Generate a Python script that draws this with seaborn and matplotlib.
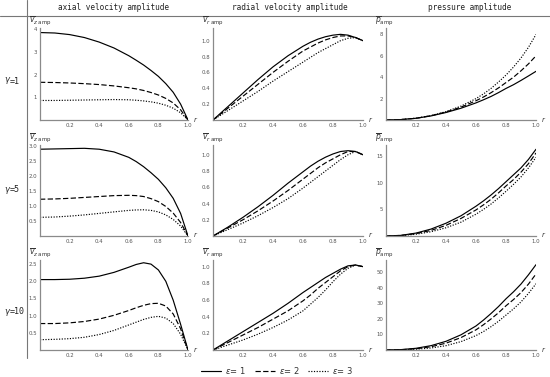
import numpy as np
import pandas as pd
import matplotlib
matplotlib.use("Agg")
import matplotlib.pyplot as plt
import seaborn as sns
from matplotlib.lines import Line2D

sns.set_theme(style="white")
plt.rcParams['font.family'] = ['DejaVu Sans']
plt.rcParams['mathtext.fontset'] = 'dejavusans'

# ---------------- data ----------------
r = [0, 0.1, 0.2, 0.3, 0.4, 0.5, 0.6, 0.65, 0.7, 0.75, 0.8, 0.85, 0.9, 0.95, 1.0]

gammas = ["1", "5", "10"]
eps_labels = ["1", "2", "3"]
col_titles = ["axial velocity amplitude", "radial velocity amplitude", "pressure amplitude"]

# axial velocity amplitude (gamma = 1, 5, 10; eps = 1, 2, 3)
axial_g1_e1 = [3.85, 3.83, 3.76, 3.63, 3.43, 3.17, 2.83, 2.63, 2.42, 2.18, 1.92, 1.60, 1.22, 0.70, 0]
axial_g1_e2 = [1.66, 1.65, 1.63, 1.60, 1.56, 1.50, 1.42, 1.37, 1.30, 1.21, 1.10, 0.95, 0.75, 0.45, 0]
axial_g1_e3 = [0.86, 0.86, 0.87, 0.88, 0.89, 0.90, 0.89, 0.87, 0.84, 0.80, 0.74, 0.65, 0.52, 0.32, 0]

axial_g5_e1 = [2.88, 2.89, 2.90, 2.91, 2.88, 2.79, 2.61, 2.47, 2.30, 2.10, 1.88, 1.60, 1.25, 0.75, 0]
axial_g5_e2 = [1.22, 1.23, 1.25, 1.28, 1.31, 1.34, 1.35, 1.34, 1.31, 1.24, 1.14, 0.98, 0.76, 0.45, 0]
axial_g5_e3 = [0.62, 0.63, 0.66, 0.70, 0.75, 0.80, 0.85, 0.865, 0.87, 0.85, 0.80, 0.70, 0.55, 0.33, 0]

axial_g10_e1 = [2.05, 2.05, 2.06, 2.09, 2.15, 2.26, 2.41, 2.49, 2.54, 2.50, 2.33, 2.00, 1.45, 0.75, 0]
axial_g10_e2 = [0.77, 0.77, 0.79, 0.83, 0.90, 1.01, 1.15, 1.23, 1.30, 1.35, 1.36, 1.28, 1.05, 0.62, 0]
axial_g10_e3 = [0.30, 0.31, 0.33, 0.37, 0.45, 0.57, 0.73, 0.81, 0.89, 0.95, 0.98, 0.93, 0.77, 0.46, 0]

# radial velocity amplitude
radial_g1_e1 = [0, 0.17, 0.34, 0.51, 0.67, 0.81, 0.93, 0.98, 1.02, 1.05, 1.07, 1.08, 1.07, 1.04, 1.0]
radial_g1_e2 = [0, 0.15, 0.30, 0.45, 0.60, 0.74, 0.87, 0.92, 0.97, 1.01, 1.04, 1.06, 1.06, 1.04, 1.0]
radial_g1_e3 = [0, 0.12, 0.24, 0.36, 0.49, 0.61, 0.73, 0.79, 0.85, 0.90, 0.95, 1.00, 1.03, 1.04, 1.0]

radial_g5_e1 = [0, 0.11, 0.23, 0.36, 0.50, 0.65, 0.79, 0.86, 0.92, 0.97, 1.01, 1.04, 1.05, 1.04, 1.0]
radial_g5_e2 = [0, 0.10, 0.20, 0.31, 0.43, 0.56, 0.70, 0.77, 0.84, 0.90, 0.95, 1.00, 1.04, 1.04, 1.0]
radial_g5_e3 = [0, 0.08, 0.16, 0.25, 0.35, 0.46, 0.59, 0.66, 0.73, 0.80, 0.87, 0.94, 1.00, 1.04, 1.0]

radial_g10_e1 = [0, 0.11, 0.22, 0.33, 0.44, 0.56, 0.69, 0.75, 0.81, 0.87, 0.92, 0.97, 1.01, 1.02, 1.0]
radial_g10_e2 = [0, 0.09, 0.18, 0.27, 0.37, 0.47, 0.59, 0.66, 0.74, 0.81, 0.88, 0.95, 1.00, 1.02, 1.0]
radial_g10_e3 = [0, 0.06, 0.12, 0.19, 0.27, 0.36, 0.47, 0.55, 0.63, 0.72, 0.82, 0.91, 0.98, 1.02, 1.0]

# pressure amplitude
press_g1_e1 = [0, 0.04, 0.16, 0.38, 0.70, 1.10, 1.60, 1.89, 2.20, 2.56, 2.95, 3.30, 3.70, 4.12, 4.55]
press_g1_e2 = [0, 0.04, 0.16, 0.40, 0.75, 1.20, 1.80, 2.15, 2.55, 3.00, 3.50, 4.00, 4.60, 5.25, 6.00]
press_g1_e3 = [0, 0.04, 0.17, 0.41, 0.78, 1.30, 2.00, 2.44, 2.95, 3.55, 4.20, 4.95, 5.80, 6.80, 8.00]

press_g5_e1 = [0, 0.12, 0.55, 1.30, 2.40, 3.80, 5.60, 6.60, 7.70, 8.90, 10.2, 11.5, 12.8, 14.4, 16.3]
press_g5_e2 = [0, 0.10, 0.45, 1.05, 2.00, 3.30, 4.90, 5.85, 6.90, 8.10, 9.40, 10.6, 12.0, 13.6, 15.6]
press_g5_e3 = [0, 0.07, 0.33, 0.80, 1.55, 2.60, 4.10, 5.00, 6.00, 7.15, 8.40, 9.70, 11.1, 12.8, 14.8]

press_g10_e1 = [0, 0.25, 1.10, 2.80, 5.60, 9.80, 15.5, 19.3, 23.5, 28.0, 33.0, 37.5, 42.5, 48.5, 55.0]
press_g10_e2 = [0, 0.18, 0.80, 2.10, 4.40, 8.00, 13.0, 16.3, 20.0, 24.0, 28.5, 32.5, 37.0, 42.5, 49.0]
press_g10_e3 = [0, 0.10, 0.50, 1.30, 2.80, 5.40, 9.30, 11.9, 15.0, 18.5, 22.5, 26.5, 31.0, 36.5, 42.7]

x_ticks = [0.2, 0.4, 0.6, 0.8, 1.0]
x_ticklabels = ["0.2", "0.4", "0.6", "0.8", "1.0"]

y_ticks = {
    (0, 0): [1, 2, 3, 4], (0, 1): [0.2, 0.4, 0.6, 0.8, 1.0], (0, 2): [2, 4, 6, 8],
    (1, 0): [0.5, 1.0, 1.5, 2.0, 2.5, 3.0], (1, 1): [0.2, 0.4, 0.6, 0.8, 1.0], (1, 2): [5, 10, 15],
    (2, 0): [0.5, 1.0, 1.5, 2.0, 2.5], (2, 1): [0.2, 0.4, 0.6, 0.8, 1.0], (2, 2): [10, 20, 30, 40, 50],
}
y_ticklabels = {
    (0, 0): ["1", "2", "3", "4"], (0, 1): ["0.2", "0.4", "0.6", "0.8", "1.0"], (0, 2): ["2", "4", "6", "8"],
    (1, 0): ["0.5", "1.0", "1.5", "2.0", "2.5", "3.0"], (1, 1): ["0.2", "0.4", "0.6", "0.8", "1.0"], (1, 2): ["5", "10", "15"],
    (2, 0): ["0.5", "1.0", "1.5", "2.0", "2.5"], (2, 1): ["0.2", "0.4", "0.6", "0.8", "1.0"], (2, 2): ["10", "20", "30", "40", "50"],
}
y_lims = {
    (0, 0): 4.05, (0, 1): 1.16, (0, 2): 8.6,
    (1, 0): 3.02, (1, 1): 1.12, (1, 2): 17.1,
    (2, 0): 2.62, (2, 1): 1.08, (2, 2): 58.0,
}

series = {
    (0, 0): [axial_g1_e1, axial_g1_e2, axial_g1_e3],
    (0, 1): [radial_g1_e1, radial_g1_e2, radial_g1_e3],
    (0, 2): [press_g1_e1, press_g1_e2, press_g1_e3],
    (1, 0): [axial_g5_e1, axial_g5_e2, axial_g5_e3],
    (1, 1): [radial_g5_e1, radial_g5_e2, radial_g5_e3],
    (1, 2): [press_g5_e1, press_g5_e2, press_g5_e3],
    (2, 0): [axial_g10_e1, axial_g10_e2, axial_g10_e3],
    (2, 1): [radial_g10_e1, radial_g10_e2, radial_g10_e3],
    (2, 2): [press_g10_e1, press_g10_e2, press_g10_e3],
}

ylabels = [r'$\overline{v}_{z\;\mathrm{amp}}$', r'$\overline{v}_{r\;\mathrm{amp}}$', r'$\overline{p}_{\mathrm{amp}}$']

# ---------------- layout ----------------
W, H = 550, 377
fig = plt.figure(figsize=(W / 100, H / 100), dpi=100)

col_px = [(40, 188), (213, 363), (386, 536)]
row_px = [(28, 120), (145, 236), (260, 350)]

styles = ['-', (0, (4.5, 2.0)), (0, (1.0, 1.3))]
lw = 0.85
spine_col = '#8a8a8a'
tick_col = '#555555'

for i, (top, bot) in enumerate(row_px):
    for j, (left, right) in enumerate(col_px):
        ax = fig.add_axes([left / W, 1 - bot / H, (right - left) / W, (bot - top) / H])
        for k, vals in enumerate(series[(i, j)]):
            df = pd.DataFrame({"r": r, "v": vals})
            sns.lineplot(data=df, x="r", y="v", ax=ax, color='black', linewidth=lw)
            ax.lines[-1].set_linestyle(styles[k])
        ax.set_xlim(0, 1.0)
        ax.set_ylim(0, y_lims[(i, j)])
        ax.set_xlabel("")
        ax.set_ylabel("")
        ax.set_xticks(x_ticks)
        ax.set_xticklabels(x_ticklabels)
        ax.set_yticks(y_ticks[(i, j)])
        ax.set_yticklabels(y_ticklabels[(i, j)])
        ax.tick_params(axis='both', which='major', direction='in', length=2.0, width=0.5,
                       labelsize=3.9, colors=spine_col, labelcolor=tick_col, pad=2.0)
        for s in ['top', 'right']:
            ax.spines[s].set_visible(False)
        for s in ['left', 'bottom']:
            ax.spines[s].set_color(spine_col)
            ax.spines[s].set_linewidth(0.9)
        ax.set_facecolor('none')
        ax.grid(False)
        # axis labels
        fig.text((right + 5) / W, 1 - (bot - 1) / H, r'$r$', fontsize=5, color='#333333',
                 ha='left', va='center')
        fig.text((left - 11) / W, 1 - (top - 7) / H, ylabels[j], fontsize=5.5, color='#333333',
                 ha='left', va='center')

# column headers
header_x = [114, 290, 470]
for x, t in zip(header_x, col_titles):
    fig.text(x / W, 1 - 8 / H, t, fontsize=5.6, family='DejaVu Sans Mono', color='#222222',
             ha='center', va='center')

# row labels
row_label_y = [81, 190, 312]
for y, g in zip(row_label_y, gammas):
    fig.text(4 / W, 1 - y / H, r'$\gamma$', fontsize=6, color='#222222', ha='left', va='center')
    fig.text(10 / W, 1 - y / H, '=' + g, fontsize=6, family='DejaVu Sans Mono',
             color='#222222', ha='left', va='center')

# table rules
fig.add_artist(Line2D([0, 1], [1 - 15.5 / H, 1 - 15.5 / H], color='#777777', linewidth=0.8,
                      transform=fig.transFigure))
fig.add_artist(Line2D([27 / W, 27 / W], [1, 1 - 358 / H], color='#777777', linewidth=0.8,
                      transform=fig.transFigure))

# legend
handles = [Line2D([], [], color='black', linewidth=lw, linestyle=s) for s in styles]
labels = [r'$\varepsilon$= ' + e for e in eps_labels]
fig.legend(handles, labels, loc='center', bbox_to_anchor=(277 / W, 1 - 370 / H), ncol=3,
           frameon=False, fontsize=6.0, handlelength=2.4, handletextpad=0.5, columnspacing=1.0,
           labelcolor='#333333')

fig.savefig("out.png", dpi=100)
